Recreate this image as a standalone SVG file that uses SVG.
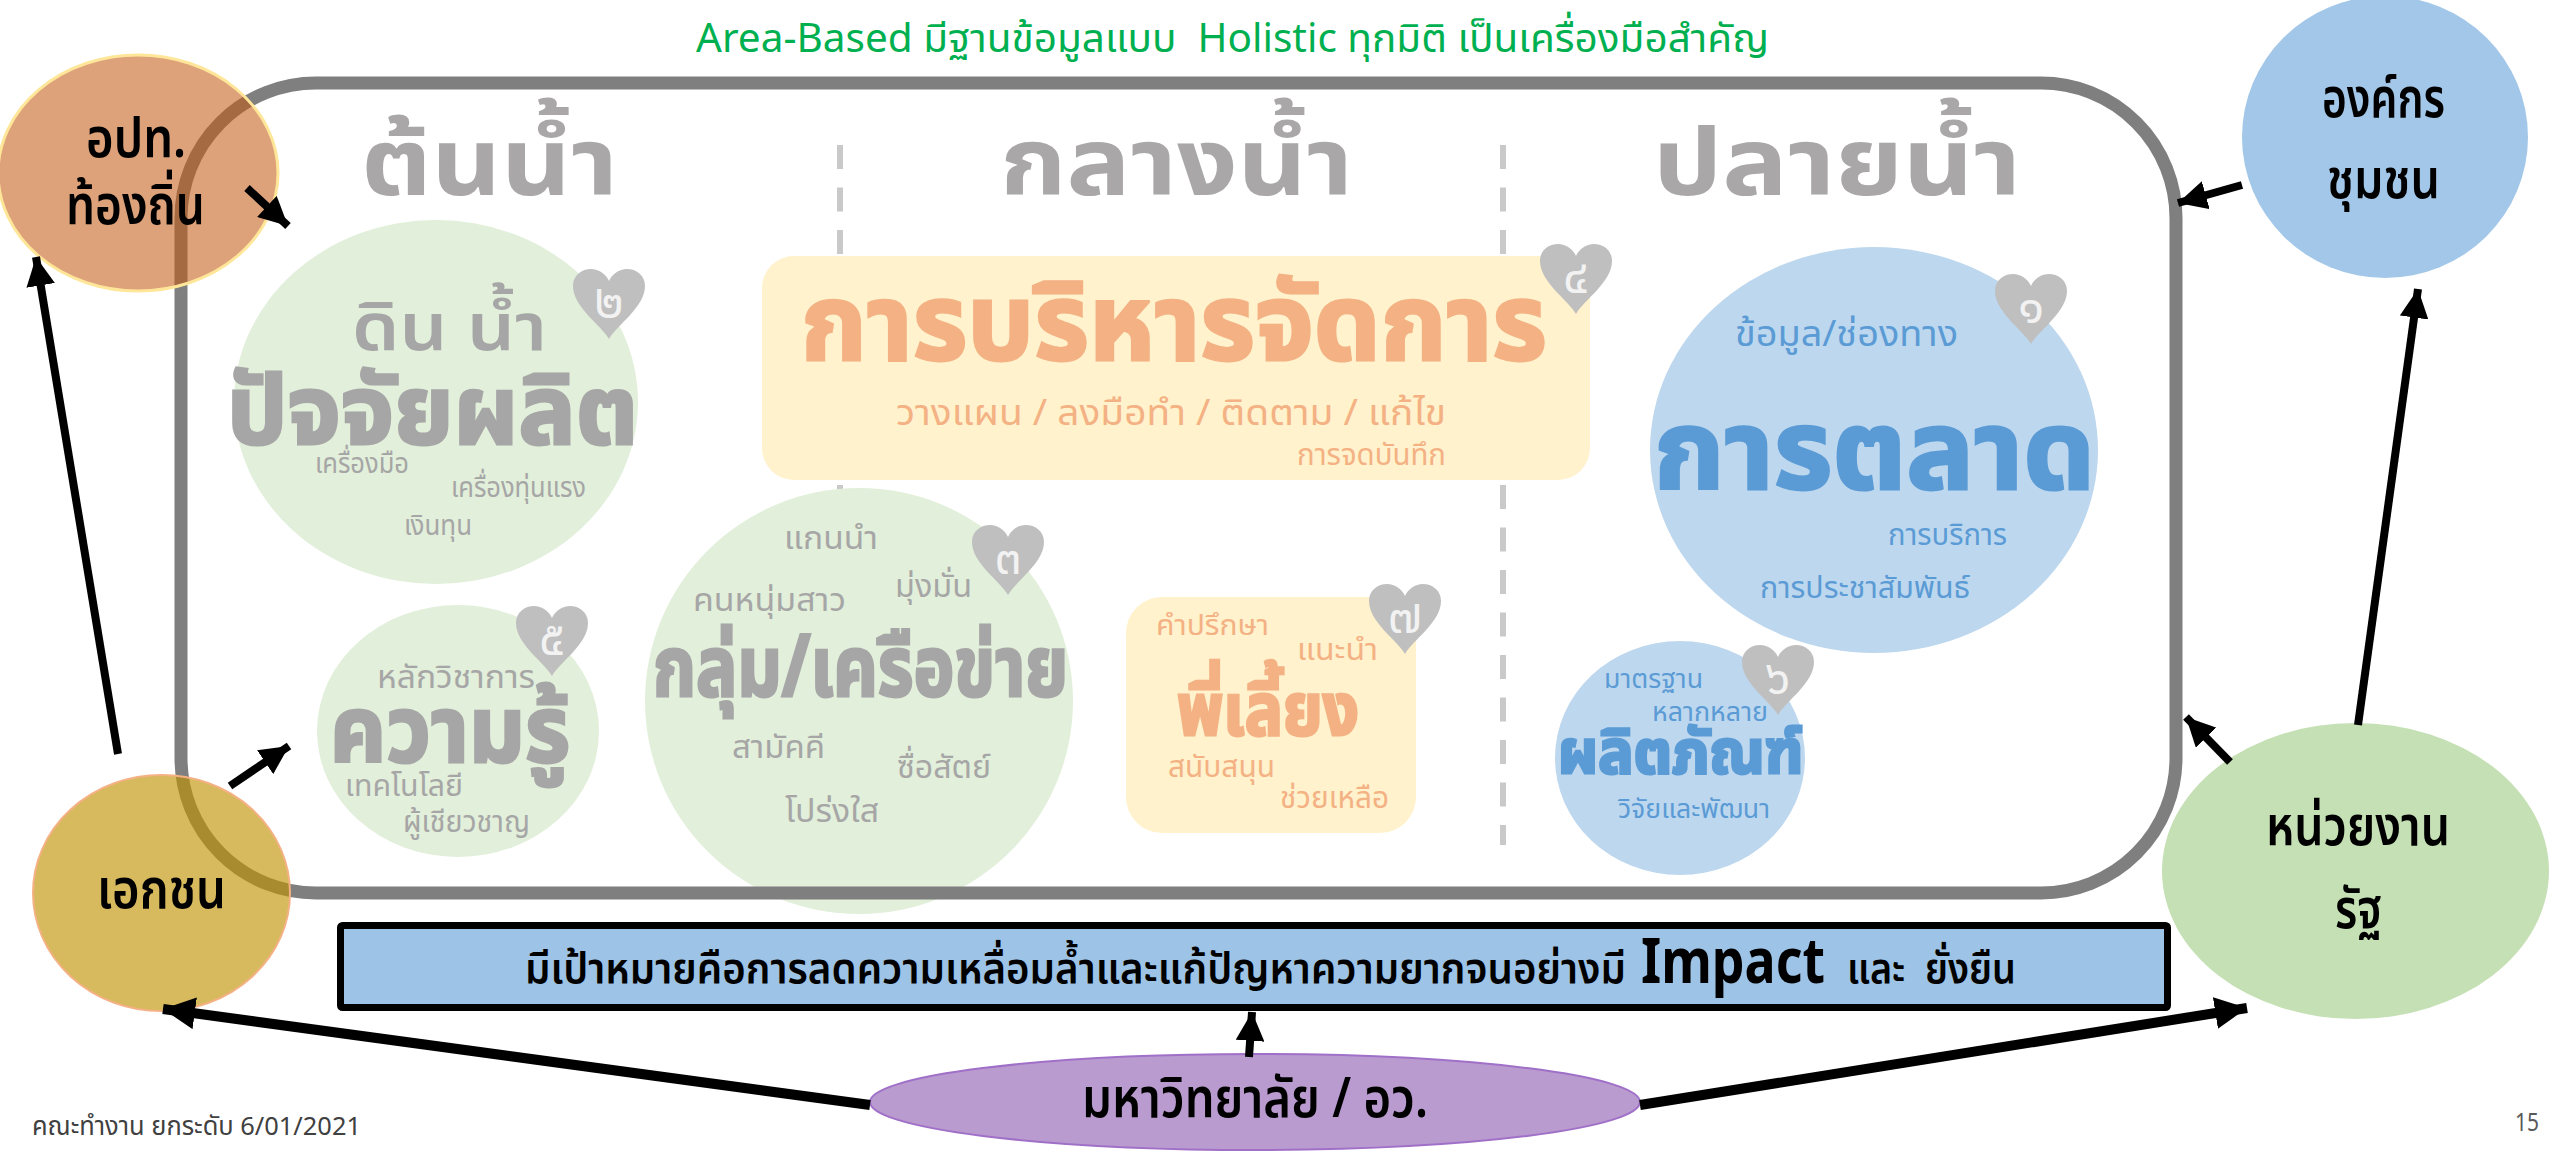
<svg xmlns="http://www.w3.org/2000/svg" width="2549" height="1152" viewBox="0 0 2549 1152">
<style>
text{font-family:"Noto Sans","Noto Sans Thai","Liberation Sans",sans-serif;}
.hd{font-size:94px;font-weight:700;fill:#a9a7a8}
.g{fill:#a6a6a6}.o{fill:#f4b183}.bl{fill:#5b9bd5}
.big{font-weight:700;stroke-width:3px}
.g.big{stroke:#a6a6a6}.o.big{stroke:#f4b183}.bl.big{stroke:#5b9bd5}
.mid{font-weight:600}
.sm{font-size:28px}
.nd{font-size:56px;font-weight:600;fill:#000}
.bar{font-weight:600;font-size:42px;fill:#000}
.hn{fill:#f2f2f2;font-size:48px;font-weight:400;text-anchor:middle}
.ln{fill:none;stroke:#000;stroke-width:8}
.ln2{fill:none;stroke:#000;stroke-width:10}
.dash{stroke:#c9c9c9;stroke-width:6;stroke-dasharray:24 18.500}
</style>
<defs>
<path id="heart" d="M36 70C28 56 0 38 0 17C0 6 9 0 18 0C26 0 33 5 36 12C39 5 46 0 54 0C63 0 72 6 72 17C72 38 44 56 36 70Z" fill="#bfbfbf"/>
<marker id="ah" viewBox="0 0 10 10" refX="10" refY="5" markerWidth="3.600" markerHeight="3.600" orient="auto" markerUnits="strokeWidth"><path d="M0 0L10 5L0 10Z" fill="#000"/></marker>
<marker id="ah2" viewBox="0 0 10 10" refX="10" refY="5" markerWidth="3.200" markerHeight="3.200" orient="auto" markerUnits="strokeWidth"><path d="M0 0L10 5L0 10Z" fill="#000"/></marker>
</defs>

<g id="dividers">
<line class="dash" x1="840" y1="145" x2="840" y2="845"/>
<line class="dash" x1="1503" y1="145" x2="1503" y2="845"/>
<text class="hd" x="361" y="195" textLength="257" lengthAdjust="spacingAndGlyphs">ต้นน้ำ</text>
<text class="hd" x="1000" y="195" textLength="353" lengthAdjust="spacingAndGlyphs">กลางน้ำ</text>
<text class="hd" x="1653" y="195" textLength="368" lengthAdjust="spacingAndGlyphs">ปลายน้ำ</text>
</g>

<g id="node-2">
<ellipse cx="436" cy="402" rx="202" ry="182" fill="#e2efda"/>
<use href="#heart" x="573" y="269"/>
<text class="hn" x="609" y="318">๒</text>
<text class="g mid" font-size="66" x="352" y="350" textLength="195" lengthAdjust="spacingAndGlyphs">ดิน น้ำ</text>
<text class="g big" font-size="96" x="227" y="444" textLength="411" lengthAdjust="spacingAndGlyphs">ปัจจัยผลิต</text>
<text class="g sm" x="315" y="473" textLength="94" lengthAdjust="spacingAndGlyphs">เครื่องมือ</text>
<text class="g sm" x="451" y="497" textLength="135" lengthAdjust="spacingAndGlyphs">เครื่องทุ่นแรง</text>
<text class="g sm" x="404" y="535" textLength="68" lengthAdjust="spacingAndGlyphs">เงินทุน</text>
</g>

<g id="node-4">
<rect x="762" y="256" width="828" height="224" rx="32" fill="#fff2cc"/>
<use href="#heart" x="1540" y="244"/>
<text class="hn" x="1576" y="293">๔</text>
<text class="o big" font-size="106" x="801" y="360" textLength="746" lengthAdjust="spacingAndGlyphs">การบริหารจัดการ</text>
<text class="o" font-size="36" x="896" y="425" textLength="550" lengthAdjust="spacingAndGlyphs">วางแผน / ลงมือทำ / ติดตาม / แก้ไข</text>
<text class="o" font-size="30" x="1297" y="465" textLength="149" lengthAdjust="spacingAndGlyphs">การจดบันทึก</text>
</g>

<g id="node-1">
<ellipse cx="1874" cy="450" rx="224" ry="203" fill="#bdd7ee"/>
<use href="#heart" x="1995" y="274"/>
<text class="hn" x="2031" y="323">๑</text>
<text class="bl" font-size="36" x="1735" y="346" textLength="223" lengthAdjust="spacingAndGlyphs">ข้อมูล/ช่องทาง</text>
<text class="bl big" font-size="110" x="1654" y="489" textLength="441" lengthAdjust="spacingAndGlyphs">การตลาด</text>
<text class="bl" font-size="30" x="1888" y="545" textLength="119" lengthAdjust="spacingAndGlyphs">การบริการ</text>
<text class="bl" font-size="30" x="1760" y="598" textLength="210" lengthAdjust="spacingAndGlyphs">การประชาสัมพันธ์</text>
</g>

<g id="node-5">
<ellipse cx="458" cy="731" rx="141" ry="126" fill="#e2efda"/>
<use href="#heart" x="516" y="606"/>
<text class="hn" x="552" y="655">๕</text>
<text class="g" font-size="32" x="377" y="688" textLength="158" lengthAdjust="spacingAndGlyphs">หลักวิชาการ</text>
<text class="g big" font-size="92" x="330" y="762" textLength="240" lengthAdjust="spacingAndGlyphs">ความรู้</text>
<text class="g" font-size="30" x="345" y="796" textLength="118" lengthAdjust="spacingAndGlyphs">เทคโนโลยี</text>
<text class="g" font-size="30" x="403" y="832" textLength="127" lengthAdjust="spacingAndGlyphs">ผู้เชียวชาญ</text>
</g>

<g id="node-3">
<ellipse cx="859" cy="701" rx="214" ry="213" fill="#e2efda"/>
<use href="#heart" x="972" y="525"/>
<text class="hn" x="1008" y="574">๓</text>
<text class="g" font-size="32" x="784" y="549" textLength="94" lengthAdjust="spacingAndGlyphs">แกนนำ</text>
<text class="g" font-size="32" x="693" y="611" textLength="153" lengthAdjust="spacingAndGlyphs">คนหนุ่มสาว</text>
<text class="g" font-size="32" x="895" y="597" textLength="77" lengthAdjust="spacingAndGlyphs">มุ่งมั่น</text>
<text class="g big" font-size="84" x="653" y="696" textLength="415" lengthAdjust="spacingAndGlyphs">กลุ่ม/เครือข่าย</text>
<text class="g" font-size="32" x="732" y="758" textLength="93" lengthAdjust="spacingAndGlyphs">สามัคคี</text>
<text class="g" font-size="32" x="897" y="778" textLength="94" lengthAdjust="spacingAndGlyphs">ซื่อสัตย์</text>
<text class="g" font-size="32" x="785" y="822" textLength="94" lengthAdjust="spacingAndGlyphs">โปร่งใส</text>
</g>

<g id="node-7">
<rect x="1126" y="597" width="290" height="236" rx="36" fill="#fff2cc"/>
<use href="#heart" x="1369" y="584"/>
<text class="hn" x="1405" y="633">๗</text>
<text class="o" font-size="28" x="1156" y="635" textLength="113" lengthAdjust="spacingAndGlyphs">คำปรึกษา</text>
<text class="o" font-size="30" x="1297" y="660" textLength="81" lengthAdjust="spacingAndGlyphs">แนะนำ</text>
<text class="o big" font-size="72" x="1177" y="735" textLength="182" lengthAdjust="spacingAndGlyphs">พี่เลี้ยง</text>
<text class="o" font-size="30" x="1168" y="777" textLength="107" lengthAdjust="spacingAndGlyphs">สนับสนุน</text>
<text class="o" font-size="30" x="1280" y="808" textLength="109" lengthAdjust="spacingAndGlyphs">ช่วยเหลือ</text>
</g>

<g id="node-6">
<ellipse cx="1680" cy="758" rx="125" ry="117" fill="#bdd7ee"/>
<use href="#heart" x="1742" y="645"/>
<text class="hn" x="1778" y="694">๖</text>
<text class="bl" font-size="26" x="1604" y="688" textLength="99" lengthAdjust="spacingAndGlyphs">มาตรฐาน</text>
<text class="bl" font-size="26" x="1652" y="721" textLength="116" lengthAdjust="spacingAndGlyphs">หลากหลาย</text>
<text class="bl big" font-size="60" x="1558" y="773" textLength="245" lengthAdjust="spacingAndGlyphs">ผลิตภัณฑ์</text>
<text class="bl" font-size="26" x="1618" y="818" textLength="152" lengthAdjust="spacingAndGlyphs">วิจัยและพัฒนา</text>
</g>

<g id="frame">
<rect x="181" y="83" width="1995" height="810" rx="135" ry="135" fill="none" stroke="#7f7f7f" stroke-width="13"/>
</g>

<g id="title">
<text x="696" y="52" font-size="40" font-weight="400" fill="#00b050" textLength="1073" lengthAdjust="spacingAndGlyphs" xml:space="preserve">Area-Based มีฐานข้อมูลแบบ  Holistic ทุกมิติ เป็นเครื่องมือสำคัญ</text>
</g>

<g id="goal-bar">
<rect x="340.500" y="925.500" width="1827" height="82" fill="#9dc3e6" stroke="#000" stroke-width="7" rx="2"/>
<text class="bar" x="525" y="983" textLength="1101" lengthAdjust="spacingAndGlyphs">มีเป้าหมายคือการลดความเหลื่อมล้ำและแก้ปัญหาความยากจนอย่างมี</text>
<text x="1641" y="983" font-size="62" font-weight="700" fill="#000" textLength="184" lengthAdjust="spacingAndGlyphs">Impact</text>
<text class="bar" x="1847" y="983" textLength="169" lengthAdjust="spacingAndGlyphs" xml:space="preserve">และ  ยั่งยืน</text>
</g>

<g id="node-local">
<ellipse cx="138" cy="173" rx="140" ry="118" fill="#c55a11" fill-opacity=".56" stroke="#ffe699" stroke-width="3"/>
<text class="nd" x="86" y="157" textLength="100" lengthAdjust="spacingAndGlyphs">อปท.</text>
<text class="nd" x="66" y="224" textLength="139" lengthAdjust="spacingAndGlyphs">ท้องถิ่น</text>
</g>
<g id="node-community">
<ellipse cx="2385" cy="137" rx="143" ry="141" fill="#a3c7e8"/>
<text class="nd" x="2322" y="117" textLength="123" lengthAdjust="spacingAndGlyphs">องค์กร</text>
<text class="nd" x="2327" y="198" textLength="113" lengthAdjust="spacingAndGlyphs">ชุมชน</text>
</g>
<g id="node-private">
<ellipse cx="161.500" cy="893" rx="128.500" ry="118" fill="#bf9000" fill-opacity=".63" stroke="#f4b183" stroke-width="2"/>
<text class="nd" x="97" y="908" textLength="129" lengthAdjust="spacingAndGlyphs">เอกชน</text>
</g>
<g id="node-gov">
<ellipse cx="2355.500" cy="871" rx="193.500" ry="148" fill="#c5e0b4"/>
<text class="nd" x="2266" y="845" textLength="184" lengthAdjust="spacingAndGlyphs">หน่วยงาน</text>
<text class="nd" x="2335" y="928" textLength="47" lengthAdjust="spacingAndGlyphs">รัฐ</text>
</g>
<g id="node-univ">
<ellipse cx="1255" cy="1102" rx="385" ry="48" fill="#b99bcf" stroke="#a070c8" stroke-width="2"/>
<text class="nd" x="1082" y="1117" textLength="346" lengthAdjust="spacingAndGlyphs">มหาวิทยาลัย / อว.</text>
</g>

<g id="connectors">
<line class="ln" x1="118" y1="754" x2="36" y2="257" marker-end="url(#ah)"/>
<line class="ln" x1="247" y1="188" x2="288" y2="226" marker-end="url(#ah)"/>
<line class="ln" x1="230" y1="786" x2="289" y2="746" marker-end="url(#ah)"/>
<line class="ln2" x1="870" y1="1105" x2="163" y2="1009" marker-end="url(#ah2)"/>
<line class="ln" x1="1249" y1="1057" x2="1252" y2="1012" marker-end="url(#ah)"/>
<line class="ln2" x1="1640" y1="1105" x2="2247" y2="1008" marker-end="url(#ah2)"/>
<line class="ln" x1="2230" y1="762" x2="2186" y2="717" marker-end="url(#ah)"/>
<line class="ln" x1="2358" y1="725" x2="2418" y2="289" marker-end="url(#ah)"/>
<line class="ln" x1="2242" y1="185" x2="2178" y2="203" marker-end="url(#ah)"/>
</g>

<g id="footer">
<text x="32" y="1135" font-size="26" fill="#404040" textLength="329" lengthAdjust="spacingAndGlyphs">คณะทำงาน ยกระดับ 6/01/2021</text>
<text x="2515" y="1131" font-size="26" fill="#595959" textLength="24" lengthAdjust="spacingAndGlyphs">15</text>
</g>
</svg>
